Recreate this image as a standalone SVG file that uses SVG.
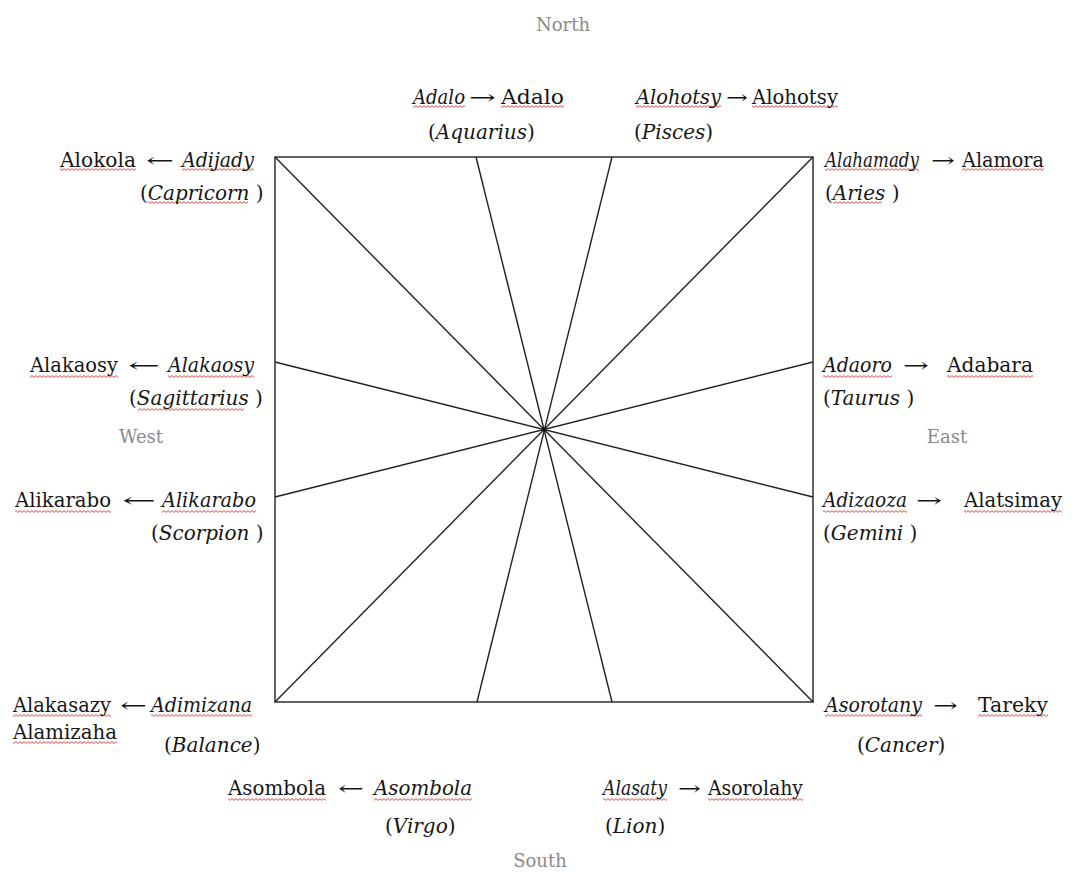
<svg xmlns="http://www.w3.org/2000/svg" width="1080" height="877" viewBox="0 0 1080 877">
<defs>
<pattern id="wv" width="4" height="3" patternUnits="userSpaceOnUse"><path d="M0 0.6 L2 2.4 L4 0.6" fill="none" stroke="#d9362f" stroke-width="0.9"/></pattern>
<style>
.t{font-family:"DejaVu Serif","Liberation Serif",serif;font-size:20px;fill:#161616}
.i{font-style:italic}
.a{font-family:"DejaVu Serif",serif;font-size:20px;fill:#161616}
.d{font-family:"DejaVu Serif","Liberation Serif",serif;font-size:18px;fill:#8a8a8a;text-anchor:middle}
.u{fill:url(#wv)}
.ln{stroke:#222;stroke-width:1.4;fill:none}
</style>
</defs>
<rect width="1080" height="877" fill="#fff"/>

<g id="compass">
<rect class="ln" x="275" y="157" width="538" height="545"/>
</g>
<g id="connectors">
<line class="ln" x1="275" y1="157" x2="813" y2="702"/>
<line class="ln" x1="813" y1="157" x2="275" y2="702"/>
<line class="ln" x1="476" y1="157" x2="612" y2="702"/>
<line class="ln" x1="612" y1="157" x2="477" y2="702"/>
<line class="ln" x1="275" y1="362" x2="813" y2="497"/>
<line class="ln" x1="275" y1="497" x2="813" y2="362"/>
<circle cx="544" cy="429.5" r="2" fill="#111"/>
</g>

<g id="directions">
<text class="d" x="563" y="31">North</text>
<text class="d" x="141" y="443">West</text>
<text class="d" x="947" y="443">East</text>
<text class="d" x="540" y="867">South</text>
</g>

<g id="aquarius">
<rect class="u" x="413" y="105" width="52" height="3"/>
<rect class="u" x="501" y="105" width="63" height="3"/>
<text class="t i" x="413" y="104" textLength="52" lengthAdjust="spacingAndGlyphs">Adalo</text>
<text class="a" x="469" y="104" textLength="27" lengthAdjust="spacingAndGlyphs">→</text>
<text class="t" x="501" y="104" textLength="63" lengthAdjust="spacingAndGlyphs">Adalo</text>
<text class="t" x="428" y="139">(<tspan class="i">Aquarius</tspan>)</text>
</g>

<g id="pisces">
<rect class="u" x="636" y="105" width="85" height="3"/>
<rect class="u" x="752" y="105" width="86" height="3"/>
<text class="t i" x="636" y="104" textLength="85" lengthAdjust="spacingAndGlyphs">Alohotsy</text>
<text class="a" x="726" y="104" textLength="22" lengthAdjust="spacingAndGlyphs">→</text>
<text class="t" x="752" y="104" textLength="86" lengthAdjust="spacingAndGlyphs">Alohotsy</text>
<text class="t" x="634" y="139">(<tspan class="i">Pisces</tspan>)</text>
</g>

<g id="capricorn">
<rect class="u" x="60" y="168" width="76" height="3"/>
<rect class="u" x="182" y="168" width="72" height="3"/>
<rect class="u" x="148" y="201" width="100" height="3"/>
<text class="t" x="60" y="167" textLength="76" lengthAdjust="spacingAndGlyphs">Alokola</text>
<text class="a" x="146" y="167" textLength="28" lengthAdjust="spacingAndGlyphs">←</text>
<text class="t i" x="182" y="167" textLength="72" lengthAdjust="spacingAndGlyphs">Adijady</text>
<text class="t" x="140" y="200">(<tspan class="i">Capricorn</tspan> )</text>
</g>

<g id="aries">
<rect class="u" x="825" y="168" width="94" height="3"/>
<rect class="u" x="962" y="168" width="82" height="3"/>
<rect class="u" x="833" y="201" width="49" height="3"/>
<text class="t i" x="825" y="167" textLength="94" lengthAdjust="spacingAndGlyphs">Alahamady</text>
<text class="a" x="931" y="167" textLength="24" lengthAdjust="spacingAndGlyphs">→</text>
<text class="t" x="962" y="167" textLength="82" lengthAdjust="spacingAndGlyphs">Alamora</text>
<text class="t" x="825" y="200">(<tspan class="i">Aries</tspan> )</text>
</g>

<g id="sagittarius">
<rect class="u" x="30" y="375" width="88" height="3"/>
<rect class="u" x="168" y="375" width="86" height="3"/>
<rect class="u" x="138" y="408" width="106" height="3"/>
<text class="t" x="30" y="372" textLength="88" lengthAdjust="spacingAndGlyphs">Alakaosy</text>
<text class="a" x="128" y="372" textLength="32" lengthAdjust="spacingAndGlyphs">←</text>
<text class="t i" x="168" y="372" textLength="86" lengthAdjust="spacingAndGlyphs">Alakaosy</text>
<text class="t" x="129" y="405">(<tspan class="i">Sagittarius</tspan> )</text>
</g>

<g id="taurus">
<rect class="u" x="823" y="375" width="69" height="3"/>
<rect class="u" x="947" y="375" width="86" height="3"/>
<text class="t i" x="823" y="372" textLength="69" lengthAdjust="spacingAndGlyphs">Adaoro</text>
<text class="a" x="903" y="372" textLength="26" lengthAdjust="spacingAndGlyphs">→</text>
<text class="t" x="947" y="372" textLength="86" lengthAdjust="spacingAndGlyphs">Adabara</text>
<text class="t" x="823" y="405">(<tspan class="i">Taurus</tspan> )</text>
</g>

<g id="scorpion">
<rect class="u" x="15" y="510" width="96" height="3"/>
<rect class="u" x="162" y="510" width="94" height="3"/>
<text class="t" x="15" y="507" textLength="96" lengthAdjust="spacingAndGlyphs">Alikarabo</text>
<text class="a" x="122" y="507" textLength="34" lengthAdjust="spacingAndGlyphs">←</text>
<text class="t i" x="162" y="507" textLength="94" lengthAdjust="spacingAndGlyphs">Alikarabo</text>
<text class="t" x="151" y="540">(<tspan class="i">Scorpion</tspan> )</text>
</g>

<g id="gemini">
<rect class="u" x="823" y="510" width="84" height="3"/>
<rect class="u" x="964" y="510" width="98" height="3"/>
<text class="t i" x="823" y="507" textLength="84" lengthAdjust="spacingAndGlyphs">Adizaoza</text>
<text class="a" x="916" y="507" textLength="26" lengthAdjust="spacingAndGlyphs">→</text>
<text class="t" x="964" y="507" textLength="98" lengthAdjust="spacingAndGlyphs">Alatsimay</text>
<text class="t" x="823" y="540">(<tspan class="i">Gemini</tspan>  )</text>
</g>

<g id="balance">
<rect class="u" x="13" y="714" width="98" height="3"/>
<rect class="u" x="151" y="714" width="101" height="3"/>
<rect class="u" x="13" y="741" width="104" height="3"/>
<text class="t" x="13" y="712" textLength="98" lengthAdjust="spacingAndGlyphs">Alakasazy</text>
<text class="a" x="120" y="712" textLength="27" lengthAdjust="spacingAndGlyphs">←</text>
<text class="t i" x="151" y="712" textLength="101" lengthAdjust="spacingAndGlyphs">Adimizana</text>
<text class="t" x="13" y="739" textLength="104" lengthAdjust="spacingAndGlyphs">Alamizaha</text>
<text class="t" x="164" y="752">(<tspan class="i">Balance</tspan>)</text>
</g>

<g id="cancer">
<rect class="u" x="825" y="714" width="97" height="3"/>
<rect class="u" x="978" y="714" width="70" height="3"/>
<text class="t i" x="825" y="712" textLength="97" lengthAdjust="spacingAndGlyphs">Asorotany</text>
<text class="a" x="933" y="712" textLength="25" lengthAdjust="spacingAndGlyphs">→</text>
<text class="t" x="978" y="712" textLength="70" lengthAdjust="spacingAndGlyphs">Tareky</text>
<text class="t" x="857" y="752">(<tspan class="i">Cancer</tspan>)</text>
</g>

<g id="virgo">
<rect class="u" x="228" y="798" width="98" height="3"/>
<rect class="u" x="374" y="798" width="98" height="3"/>
<text class="t" x="228" y="795" textLength="98" lengthAdjust="spacingAndGlyphs">Asombola</text>
<text class="a" x="338" y="795" textLength="26" lengthAdjust="spacingAndGlyphs">←</text>
<text class="t i" x="374" y="795" textLength="98" lengthAdjust="spacingAndGlyphs">Asombola</text>
<text class="t" x="385" y="833">(<tspan class="i">Virgo</tspan>)</text>
</g>

<g id="lion">
<rect class="u" x="603" y="798" width="64" height="3"/>
<rect class="u" x="708" y="798" width="95" height="3"/>
<text class="t i" x="603" y="795" textLength="64" lengthAdjust="spacingAndGlyphs">Alasaty</text>
<text class="a" x="678" y="795" textLength="23" lengthAdjust="spacingAndGlyphs">→</text>
<text class="t" x="708" y="795" textLength="95" lengthAdjust="spacingAndGlyphs">Asorolahy</text>
<text class="t" x="605" y="833">(<tspan class="i">Lion</tspan>)</text>
</g>
</svg>
